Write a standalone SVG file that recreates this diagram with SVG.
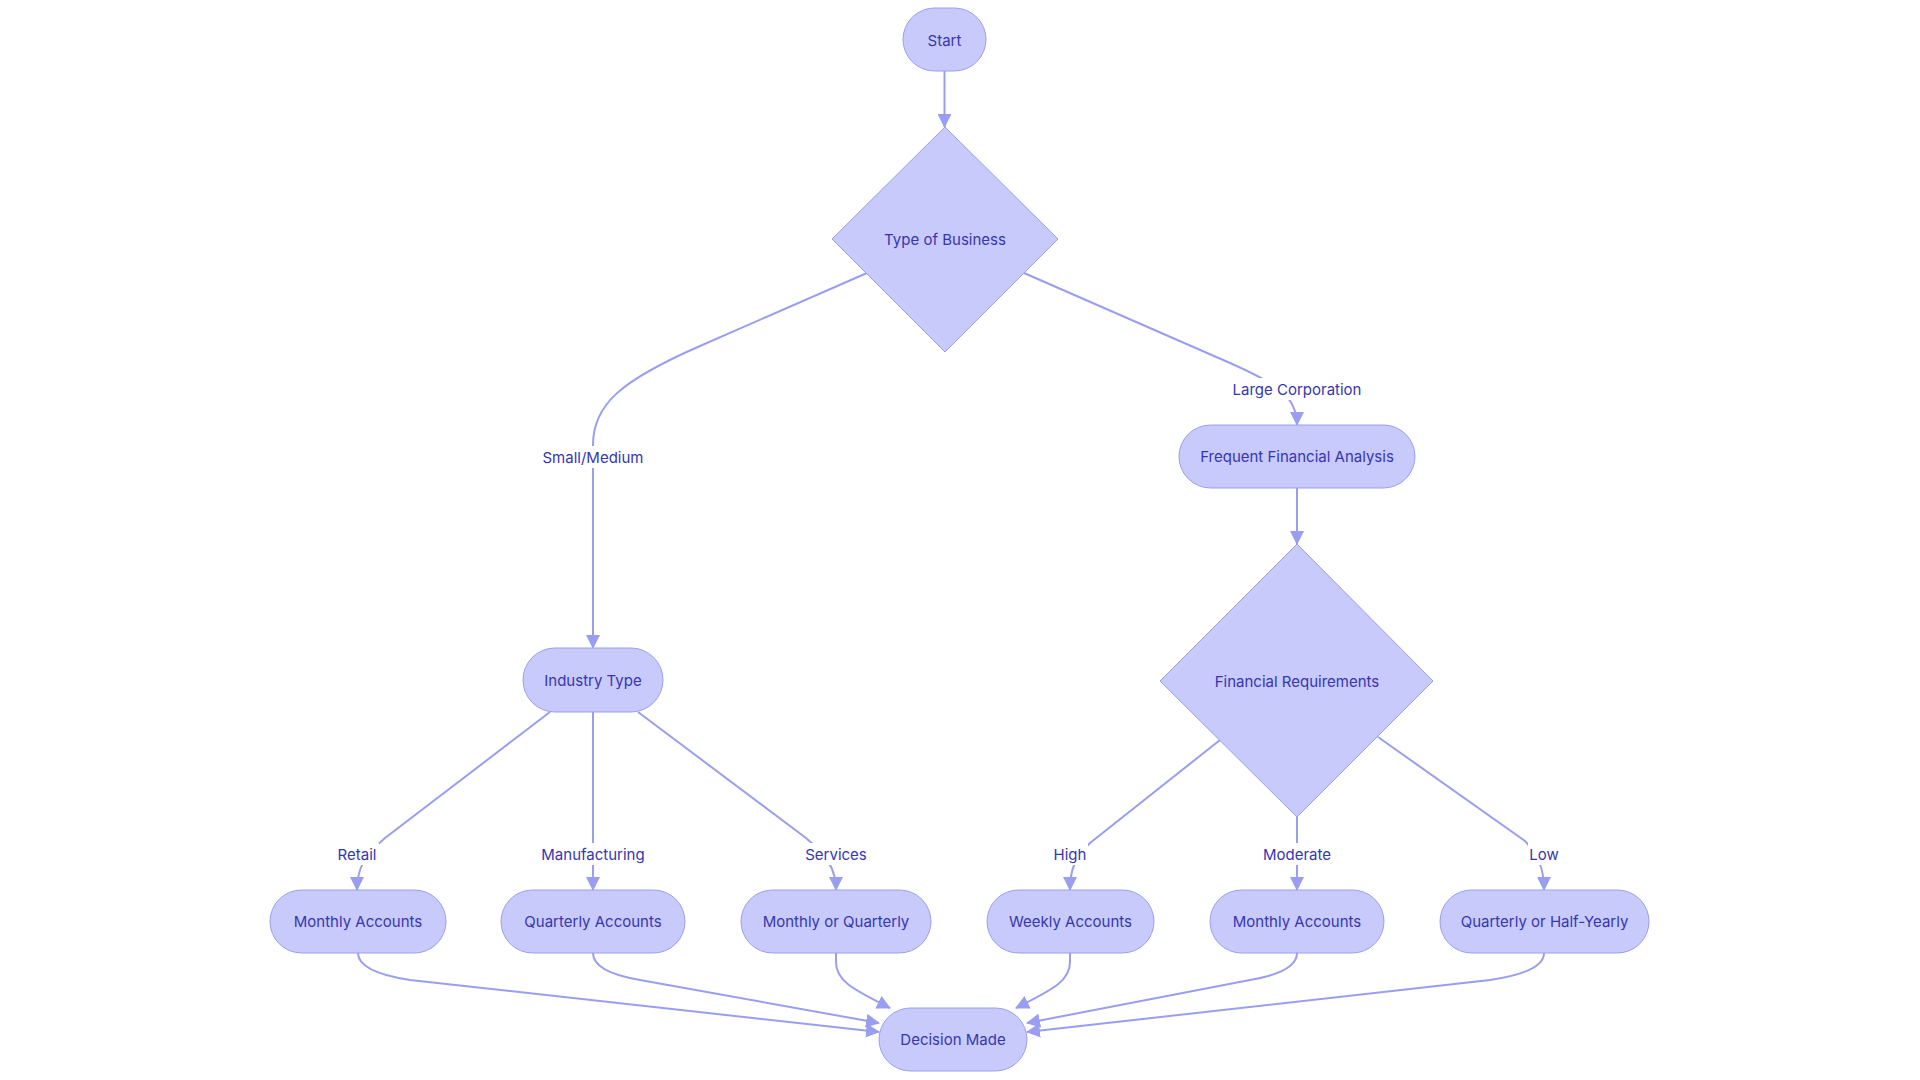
<svg xmlns="http://www.w3.org/2000/svg" width="1920" height="1080" viewBox="0 0 1920 1080">
<defs>
<marker id="arr" viewBox="0 0 14 14" refX="13" refY="7" markerWidth="14" markerHeight="14" markerUnits="userSpaceOnUse" orient="auto">
<path d="M0,0 L14,7 L0,14 z" fill="#9a9ef0"/>
</marker>
<style>
.n{fill:#c8cafb;stroke:#9a9ef0;stroke-width:1}
.t{font-family:Inter,"Liberation Sans",sans-serif;font-size:15px;fill:#3636b0;text-anchor:middle;dominant-baseline:central}
.e{fill:none;stroke:#9a9ef0;stroke-width:2;marker-end:url(#arr)}
.lb{fill:#ffffff}
</style>
</defs>
<rect width="1920" height="1080" fill="#ffffff"/>
<g id="connectors">
<path class="e" d="M944.5,71 L944.5,127"/>
<path class="e" d="M867,273 L700,346 C620,381 593,405 593,445 L593,648"/>
<path class="e" d="M1024,273 L1230,363 C1275,383 1297,395 1297,425"/>
<path class="e" d="M1297,488 L1297,544"/>
<path class="e" d="M550,712 L385,838 C365,855 357,868 357,890"/>
<path class="e" d="M593,712 L593,890"/>
<path class="e" d="M638,712 L806,838 C826,855 836,868 836,890"/>
<path class="e" d="M1220,740 L1090,843 C1076,857 1070,868 1070,890"/>
<path class="e" d="M1297,816 L1297,890"/>
<path class="e" d="M1378,737 L1525,841 C1538,855 1544,868 1544,890"/>
<path class="e" d="M358,953 Q358,972 410,980 L879,1032"/>
<path class="e" d="M593,953 Q593,972 640,980 L879,1023"/>
<path class="e" d="M836,953 L836,962 C836,980 850,988 890,1008"/>
<path class="e" d="M1070,953 L1070,962 C1070,980 1056,988 1016,1008"/>
<path class="e" d="M1297,953 Q1297,972 1250,980 L1027,1023"/>
<path class="e" d="M1544,953 Q1544,972 1490,980 L1027,1032"/>
</g>
<g id="edge-labels">
<rect class="lb" x="540" y="446" width="106" height="22"/><text class="t" x="593" y="457">Small/Medium</text>
<rect class="lb" x="1232" y="378" width="130" height="22"/><text class="t" x="1297" y="389">Large Corporation</text>
<rect class="lb" x="335" y="843" width="44" height="22"/><text class="t" x="357" y="854">Retail</text>
<rect class="lb" x="540" y="843" width="106" height="22"/><text class="t" x="593" y="854">Manufacturing</text>
<rect class="lb" x="804" y="843" width="64" height="22"/><text class="t" x="836" y="854">Services</text>
<rect class="lb" x="1052" y="843" width="36" height="22"/><text class="t" x="1070" y="854">High</text>
<rect class="lb" x="1263" y="843" width="68" height="22"/><text class="t" x="1297" y="854">Moderate</text>
<rect class="lb" x="1528" y="843" width="32" height="22"/><text class="t" x="1544" y="854">Low</text>
</g>
<g id="start"><rect class="n" x="903" y="8" width="83" height="63" rx="31.5"/><text class="t" x="944.5" y="40">Start</text></g>
<g id="type-of-business"><polygon class="n" points="945,127 1058,239 945,352 832,239"/><text class="t" x="945" y="239">Type of Business</text></g>
<g id="industry-type"><rect class="n" x="523" y="648" width="140" height="64" rx="32"/><text class="t" x="593" y="680">Industry Type</text></g>
<g id="frequent-financial-analysis"><rect class="n" x="1179" y="425" width="236" height="63" rx="31.5"/><text class="t" x="1297" y="456.5">Frequent Financial Analysis</text></g>
<g id="financial-requirements"><polygon class="n" points="1297,544 1433,681 1297,817 1160,681"/><text class="t" x="1297" y="681">Financial Requirements</text></g>
<g id="monthly-accounts-1"><rect class="n" x="270" y="890" width="176" height="63" rx="31.5"/><text class="t" x="358" y="921.5">Monthly Accounts</text></g>
<g id="quarterly-accounts"><rect class="n" x="501" y="890" width="184" height="63" rx="31.5"/><text class="t" x="593" y="921.5">Quarterly Accounts</text></g>
<g id="monthly-or-quarterly"><rect class="n" x="741" y="890" width="190" height="63" rx="31.5"/><text class="t" x="836" y="921.5">Monthly or Quarterly</text></g>
<g id="weekly-accounts"><rect class="n" x="987" y="890" width="167" height="63" rx="31.5"/><text class="t" x="1070.5" y="921.5">Weekly Accounts</text></g>
<g id="monthly-accounts-2"><rect class="n" x="1210" y="890" width="174" height="63" rx="31.5"/><text class="t" x="1297" y="921.5">Monthly Accounts</text></g>
<g id="quarterly-or-half-yearly"><rect class="n" x="1440" y="890" width="209" height="63" rx="31.5"/><text class="t" x="1544.5" y="921.5">Quarterly or Half-Yearly</text></g>
<g id="decision-made"><rect class="n" x="879" y="1008" width="148" height="63" rx="31.5"/><text class="t" x="953" y="1039.5">Decision Made</text></g>
</svg>
